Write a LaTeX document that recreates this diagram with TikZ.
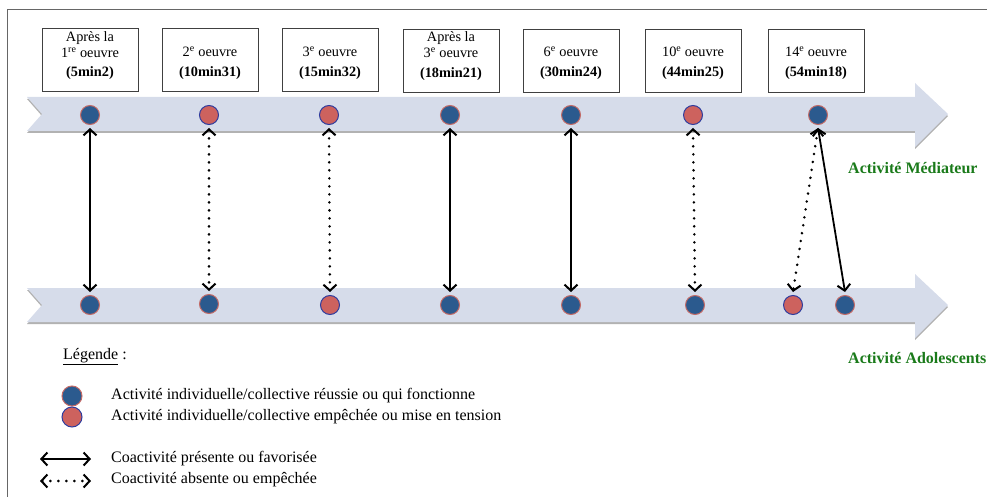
\documentclass[tikz,border=0pt]{standalone}
\usepackage{fontspec}
\setmainfont{Liberation Serif}
\usetikzlibrary{arrows.meta}
\definecolor{band}{HTML}{D6DCEA}
\definecolor{dotblue}{HTML}{2B5A8E}
\definecolor{dotred}{HTML}{CD625E}
\definecolor{rimred}{HTML}{C46A66}
\definecolor{rimblue}{HTML}{2E3C9E}
\definecolor{lblgreen}{HTML}{1A7A1A}
\tikzset{
  x=1pt, y=-1pt,
  timebox/.style={draw=black!75, line width=0.8pt, minimum width=96pt, minimum height=63pt, inner sep=0pt},
  boxtxt/.style={font=\fontsize{14.3}{15}\selectfont, inner sep=0pt, anchor=center},
  bdot/.style={circle, fill=dotblue, draw=rimred, line width=1pt, minimum size=19pt, inner sep=0pt},
  rdot/.style={circle, fill=dotred, draw=rimblue, line width=1pt, minimum size=19pt, inner sep=0pt},
  barb/.tip={Straight Barb[length=6pt,width=13pt,line width=2pt]},
  coact/.style={line width=1.8pt, barb-barb},
  noact/.style={line width=2.8pt, line cap=round, dash pattern=on 0pt off 8pt, barb-barb},
  bandshape/.style={fill=band},
  bandshadow/.style={fill=black!30},
  greenlbl/.style={font=\fontsize{16}{18}\selectfont\bfseries, text=lblgreen, anchor=west, inner sep=0pt},
  legtxt/.style={font=\fontsize{16}{18}\selectfont, anchor=west, inner sep=0pt},
}
\begin{document}
\begin{tikzpicture}
\useasboundingbox (0,0) rectangle (987,497);
% frame
\draw[black!60, line width=1pt] (7,497) -- (7,10) -- (987,10);
% bands
\foreach \c in {114,305}{
  \fill[bandshadow] (27,\c-17+2) -- (915,\c-17+2) -- (915,\c-31+2) -- (948,\c+2) -- (915,\c+33+2) -- (915,\c+17+2) -- (27,\c+17+2) -- (42,\c+2) -- cycle;
  \fill[bandshape] (27,\c-17) -- (915,\c-17) -- (915,\c-31) -- (948,\c) -- (915,\c+33) -- (915,\c+17) -- (27,\c+17) -- (42,\c) -- cycle;
}
% boxes
\node[timebox] (b1) at (90,60) {};
\node[timebox] (b2) at (210,60) {};
\node[timebox] (b3) at (330,60) {};
\node[timebox] (b4) at (451,61) {};
\node[timebox] (b5) at (571,61) {};
\node[timebox] (b6) at (693,61) {};
\node[timebox] (b7) at (816,61) {};
\node[boxtxt] (t1a) at (90,38) {Après la};
\node[boxtxt] (t1b) at (90,53) {1\textsuperscript{re} oeuvre};
\node[boxtxt] (t1c) at (90,73) {\bfseries(5min2)};
\node[boxtxt] (t2a) at (210,52) {2\textsuperscript{e} oeuvre};
\node[boxtxt] (t2b) at (210,73) {\bfseries(10min31)};
\node[boxtxt] (t3a) at (330,52) {3\textsuperscript{e} oeuvre};
\node[boxtxt] (t3b) at (330,73) {\bfseries(15min32)};
\node[boxtxt] (t4a) at (451,38) {Après la};
\node[boxtxt] (t4b) at (451,53) {3\textsuperscript{e} oeuvre};
\node[boxtxt] (t4c) at (451,74) {\bfseries(18min21)};
\node[boxtxt] (t5a) at (571,52) {6\textsuperscript{e} oeuvre};
\node[boxtxt] (t5b) at (571,73) {\bfseries(30min24)};
\node[boxtxt] (t6a) at (693,52) {10\textsuperscript{e} oeuvre};
\node[boxtxt] (t6b) at (693,73) {\bfseries(44min25)};
\node[boxtxt] (t7a) at (816,52) {14\textsuperscript{e} oeuvre};
\node[boxtxt] (t7b) at (816,73) {\bfseries(54min18)};
% top dots
\node[bdot] (m1) at (90,115) {};
\node[rdot] (m2) at (209,115) {};
\node[rdot] (m3) at (329,115) {};
\node[bdot] (m4) at (450,115) {};
\node[bdot] (m5) at (571,115) {};
\node[rdot] (m6) at (693,115) {};
\node[bdot] (m7) at (818,115) {};
% bottom dots
\node[bdot] (a1) at (90,305) {};
\node[bdot] (a2) at (209,304) {};
\node[rdot] (a3) at (330,305) {};
\node[bdot] (a4) at (450,305) {};
\node[bdot] (a5) at (571,305) {};
\node[bdot] (a6) at (695,305) {};
\node[rdot] (a7) at (793,305) {};
\node[bdot] (a8) at (845,305) {};
% connectors
\draw[coact] ([yshift=-3pt]m1.south) -- ([yshift=3pt]a1.north);
\draw[noact] ([yshift=-3pt]m2.south) -- ([yshift=3pt]a2.north);
\draw[noact] ([yshift=-3pt]m3.south) -- ([yshift=3pt]a3.north);
\draw[coact] ([yshift=-3pt]m4.south) -- ([yshift=3pt]a4.north);
\draw[coact] ([yshift=-3pt]m5.south) -- ([yshift=3pt]a5.north);
\draw[noact] ([yshift=-3pt]m6.south) -- ([yshift=3pt]a6.north);
\draw[noact] ([yshift=-3pt]m7.south) -- ([yshift=3pt]a7.north);
\draw[coact] ([yshift=-3pt]m7.south) -- ([yshift=3pt]a8.north);
% labels
\node[greenlbl] (lm) at (848,168) {Activité Médiateur};
\node[greenlbl] (la) at (848,358) {Activité Adolescents};
% legend
\node[legtxt] (lg) at (63,357) {\underline{Légende} :};
\node[bdot, minimum size=20pt] (ld1) at (72,396) {};
\node[rdot, minimum size=20pt] (ld2) at (72,417) {};
\node[legtxt] (lt1) at (111,396) {Activité individuelle/collective réussie ou qui fonctionne};
\node[legtxt] (lt2) at (111,417) {Activité individuelle/collective empêchée ou mise en tension};
\coordinate (s1) at (40,459);
\coordinate (s2) at (91,459);
\coordinate (d1) at (40,481);
\coordinate (d2) at (91,481);
\draw[coact] (s1) -- (s2);
\draw[noact] (d1) -- (d2);
\node[legtxt] (lt3) at (111,459) {Coactivité présente ou favorisée};
\node[legtxt] (lt4) at (111,480) {Coactivité absente ou empêchée};
\end{tikzpicture}
\end{document}
